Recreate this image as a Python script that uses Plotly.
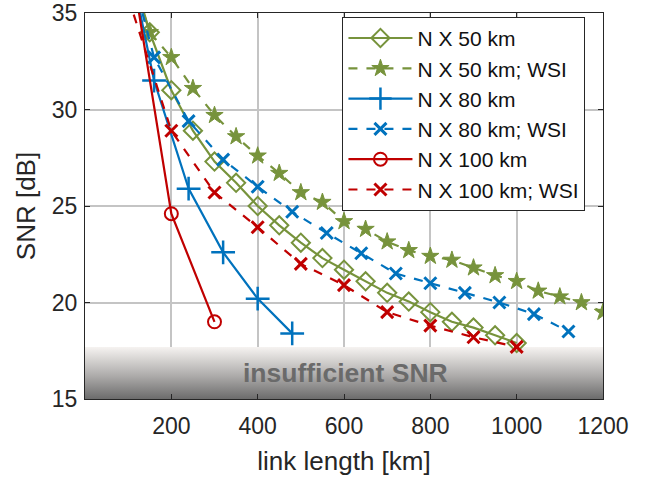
import plotly.graph_objects as go

# ---- data ----
x50 = [100, 150, 200, 250, 300, 350, 400, 450, 500, 550, 600, 650, 700, 750,
       800, 850, 900, 950, 1000]
snr50 = [37.8, 34.0, 31.0, 28.9, 27.3, 26.2, 25.0, 24.0, 23.1, 22.3, 21.7, 21.1,
         20.5, 20.05, 19.5, 19.0, 18.7, 18.3, 17.9]

x50w = [100, 150, 200, 250, 300, 350, 400, 450, 500, 550, 600, 650, 700, 750,
        800, 850, 900, 950, 1000, 1050, 1100, 1150, 1200]
snr50w = [37.5, 34.0, 32.7, 31.1, 29.7, 28.6, 27.6, 26.7, 25.7, 25.2, 24.2, 23.8,
          23.15, 22.7, 22.4, 22.2, 21.8, 21.4, 21.1, 20.6, 20.3, 20.0, 19.5]

x80 = [80, 160, 240, 320, 400, 480]
snr80 = [40.2, 31.5, 25.9, 22.6, 20.2, 18.4]

x80w = [80, 160, 240, 320, 400, 480, 560, 640, 720, 800, 880, 960, 1040, 1120]
snr80w = [39.5, 32.7, 29.4, 27.4, 26.0, 24.7, 23.6, 22.55, 21.5, 21.0, 20.5,
          20.0, 19.4, 18.5]

x100 = [100, 200, 300]
snr100 = [38.5, 24.6, 19.0]

x100w = [100, 200, 300, 400, 500, 600, 700, 800, 900, 1000]
snr100w = [35.8, 28.9, 25.7, 23.9, 22.0, 20.9, 19.5, 18.8, 18.2, 17.7]

band_x = [0, 1200, 1200, 0]
band_y = [15, 15, 17.7, 17.7]

x_ticks = [200, 400, 600, 800, 1000, 1200]
y_ticks = [15, 20, 25, 30, 35]

GREEN = "#77933C"
BLUE = "#0072BD"
RED = "#C00000"

fig = go.Figure()

# insufficient SNR band (gradient)
fig.add_trace(go.Scatter(
    x=band_x, y=band_y, fill="toself", mode="none", showlegend=False,
    hoverinfo="skip",
    fillgradient=dict(type="vertical",
                      colorscale=[[0, "#6c6c6c"], [0.45, "#aeacab"],
                                  [1, "#f6f3f1"]]),
))

def add(x, y, name, color, dash, symbol, size, lw_marker):
    fig.add_trace(go.Scatter(
        x=x, y=y, name=name, mode="lines+markers",
        line=dict(color=color, width=2.2, dash=dash),
        marker=dict(symbol=symbol, size=size, color=color,
                    line=dict(color=color, width=lw_marker)),
    ))

add(x50, snr50, "N X 50 km", GREEN, "solid", "diamond-open", 14, 2)
add(x50w, snr50w, "N X 50 km; WSI", GREEN, "dash", "star", 13, 1)
add(x80, snr80, "N X 80 km", BLUE, "solid", "cross-thin-open", 17, 2.5)
add(x80w, snr80w, "N X 80 km; WSI", BLUE, "dash", "x-thin-open", 12, 3)
add(x100, snr100, "N X 100 km", RED, "solid", "circle-open", 13, 2)
add(x100w, snr100w, "N X 100 km; WSI", RED, "dash", "x-thin-open", 12, 3)

fig.add_annotation(x=603, y=16.35, text="<b>insufficient SNR</b>",
                   showarrow=False, font=dict(size=26.5, color="#6a6a6a"))

axis_common = dict(showline=True, linecolor="#262626", linewidth=1.2,
                   mirror="ticks", ticks="inside", ticklen=5,
                   tickcolor="#262626", showgrid=True, gridcolor="#c4c4c4",
                   gridwidth=1.5, zeroline=False, automargin=False,
                   tickfont=dict(size=23, color="#262626"))

fig.update_layout(
    width=648, height=478,
    margin=dict(l=85, r=45, t=13, b=79),
    plot_bgcolor="white", paper_bgcolor="white",
    font=dict(family="Liberation Sans, Arial, sans-serif", color="#262626"),
    xaxis=dict(range=[0, 1200], tickvals=x_ticks, ticklabelstandoff=6,
               title=dict(text="link length [km]", font=dict(size=26),
                          standoff=14),
               **axis_common),
    yaxis=dict(range=[15, 35], tickvals=y_ticks, ticklabelstandoff=2,
               title=dict(text="SNR [dB]", font=dict(size=26), standoff=8),
               **axis_common),
    legend=dict(x=0.497, y=0.99, xanchor="left", yanchor="top",
                bgcolor="white", bordercolor="#262626", borderwidth=1,
                font=dict(size=21, color="#111"), itemwidth=64,
                tracegroupgap=0),
)

fig.write_html("out.html")
